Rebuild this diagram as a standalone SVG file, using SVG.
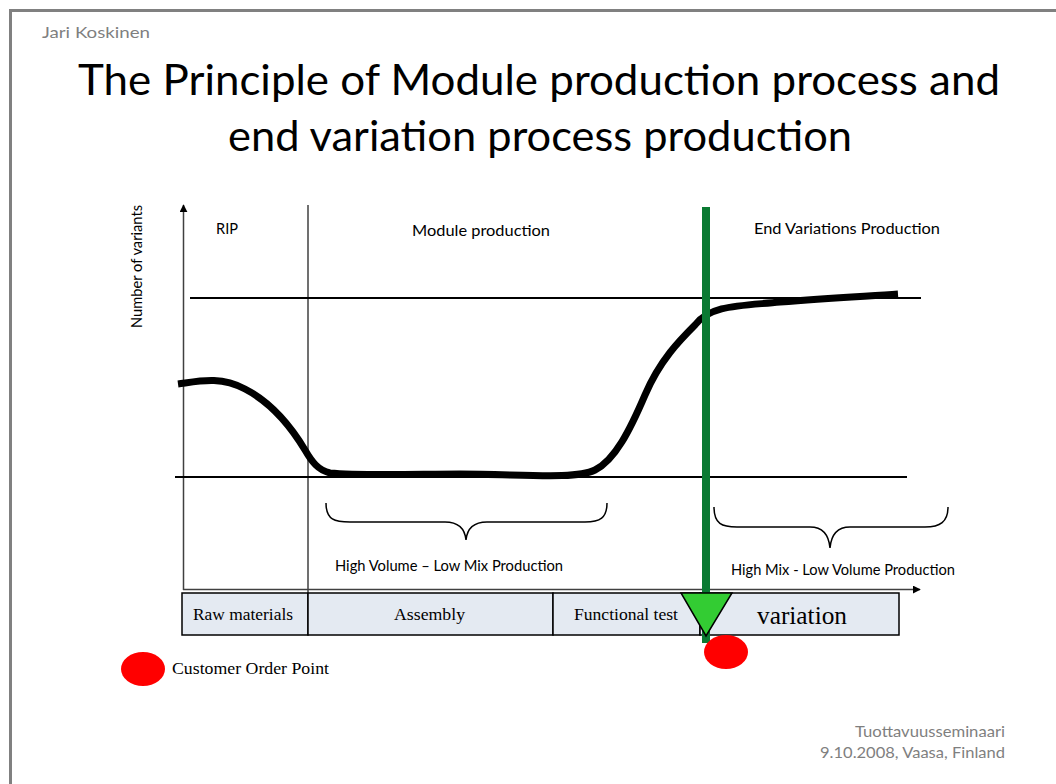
<svg xmlns="http://www.w3.org/2000/svg" width="1056" height="784" viewBox="0 0 1056 784">
  <style>
    .sans { font-family: Lato, "Open Sans", "Liberation Sans", sans-serif; }
    .serif { font-family: "Liberation Serif", "Times New Roman", serif; fill: #000; }
    .meta { fill: #7f7f7f; font-size: 16px; }
    .title { font-size: 43px; fill: #000; }
    .lbl { font-size: 16px; fill: #000; }
    .axis { stroke: #404040; stroke-width: 1.5; fill: none; }
    .guide { stroke: #000; stroke-width: 2; fill: none; }
    .brace { stroke: #000; stroke-width: 1.5; fill: none; }
    .box { fill: #e4eaf2; stroke: #000; stroke-width: 1.5; }
    .cop { fill: #ff0000; }
  </style>
  <defs>
    <marker id="arrow" viewBox="0 0 10 10" refX="9" refY="5" markerWidth="8" markerHeight="8" orient="auto" markerUnits="userSpaceOnUse">
      <path d="M0,0 L10,5 L0,10 z" fill="#000"/>
    </marker>
  </defs>

  <rect width="1056" height="784" fill="#fff"/>
  <!-- slide frame -->
  <rect x="10.5" y="10.5" width="1060" height="790" fill="none" stroke="#808080" stroke-width="3"/>

  <text class="sans meta" x="42" y="38" textLength="108" lengthAdjust="spacingAndGlyphs">Jari Koskinen</text>

  <g id="title" class="sans title">
    <text x="78" y="95" textLength="922" lengthAdjust="spacingAndGlyphs">The Principle of Module production process  and</text>
    <text x="228" y="151" textLength="624" lengthAdjust="spacingAndGlyphs">end variation process production</text>
  </g>

  <!-- axes and guide lines -->
  <g id="connectors">
    <line class="axis" x1="183.5" y1="590" x2="183.5" y2="205" marker-end="url(#arrow)"/>
    <line class="axis" x1="183" y1="589.5" x2="920" y2="589.5" marker-end="url(#arrow)"/>
    <line class="axis" x1="308" y1="205" x2="308" y2="592"/>
    <line class="guide" x1="190" y1="298" x2="921" y2="298"/>
    <line class="guide" x1="175" y1="477" x2="907" y2="477"/>
    <!-- variant curve -->
    <path d="M178,384 C200,381 220,376 245,389 C270,402 290,425 305,450 C312,462 318,470 330,473 C360,476 420,474 460,474 C520,474 575,480 595,470 C615,460 630,430 645,395 C660,360 680,340 695,325 C710,305 740,306 780,302 C830,298 870,296 898,294" fill="none" stroke="#000" stroke-width="7"/>
    <!-- braces -->
    <path class="brace" d="M326,503 C326,520 335,522 350,522 L445,522 C460,522 465,530 466,540 C467,530 472,522 487,522 L585,522 C600,522 607,518 607,503"/>
    <path class="brace" d="M714,507 C714,524 722,527 737,527 L810,527 C825,527 829,537 830,548 C831,537 835,527 850,527 L925,527 C940,527 948,522 948,507"/>
  </g>

  <g id="y-label" class="sans lbl">
    <text transform="translate(142,328) rotate(-90)" textLength="123" lengthAdjust="spacingAndGlyphs">Number of variants</text>
  </g>
  <g id="phases" class="sans lbl">
    <text x="216" y="234" textLength="22" lengthAdjust="spacingAndGlyphs">RIP</text>
    <text x="412" y="236" textLength="138" lengthAdjust="spacingAndGlyphs">Module production</text>
    <text x="754" y="234" textLength="186" lengthAdjust="spacingAndGlyphs">End Variations Production</text>
  </g>
  <g id="mix-labels" class="sans" font-size="15">
    <text x="335" y="571" textLength="228" lengthAdjust="spacingAndGlyphs">High Volume – Low Mix Production</text>
    <text x="731" y="575" textLength="224" lengthAdjust="spacingAndGlyphs">High Mix - Low Volume Production</text>
  </g>

  <!-- process steps -->
  <g id="raw-materials">
    <rect class="box" x="182" y="593" width="126" height="42"/>
    <text class="serif" x="193" y="620" font-size="17" textLength="100" lengthAdjust="spacingAndGlyphs">Raw materials</text>
  </g>
  <g id="assembly">
    <rect class="box" x="308" y="593" width="245" height="42"/>
    <text class="serif" x="394" y="620" font-size="17" textLength="71" lengthAdjust="spacingAndGlyphs">Assembly</text>
  </g>
  <g id="functional-test">
    <rect class="box" x="553" y="593" width="147" height="42"/>
    <text class="serif" x="574" y="620" font-size="17" textLength="104" lengthAdjust="spacingAndGlyphs">Functional test</text>
  </g>
  <g id="variation">
    <rect class="box" x="700" y="593" width="199" height="42"/>
    <text class="serif" x="757" y="624" font-size="26" textLength="90" lengthAdjust="spacingAndGlyphs">variation</text>
  </g>

  <!-- decoupling point -->
  <g id="decoupling">
    <line x1="706" y1="207" x2="706" y2="643" stroke="#0a7a32" stroke-width="8"/>
    <polygon points="681,593 732,593 706,636" fill="#33cc33" stroke="#000" stroke-width="1.5"/>
    <ellipse class="cop" cx="726" cy="652" rx="22" ry="17"/>
  </g>

  <g id="legend">
    <ellipse class="cop" cx="143" cy="669" rx="22" ry="17"/>
    <text class="serif" x="172" y="674" font-size="17" textLength="157" lengthAdjust="spacingAndGlyphs">Customer Order Point</text>
  </g>

  <g id="footer" class="sans meta" font-size="16">
    <text x="855" y="737" textLength="150" lengthAdjust="spacingAndGlyphs">Tuottavuusseminaari</text>
    <text x="820" y="758" textLength="185" lengthAdjust="spacingAndGlyphs">9.10.2008, Vaasa, Finland</text>
  </g>
</svg>
